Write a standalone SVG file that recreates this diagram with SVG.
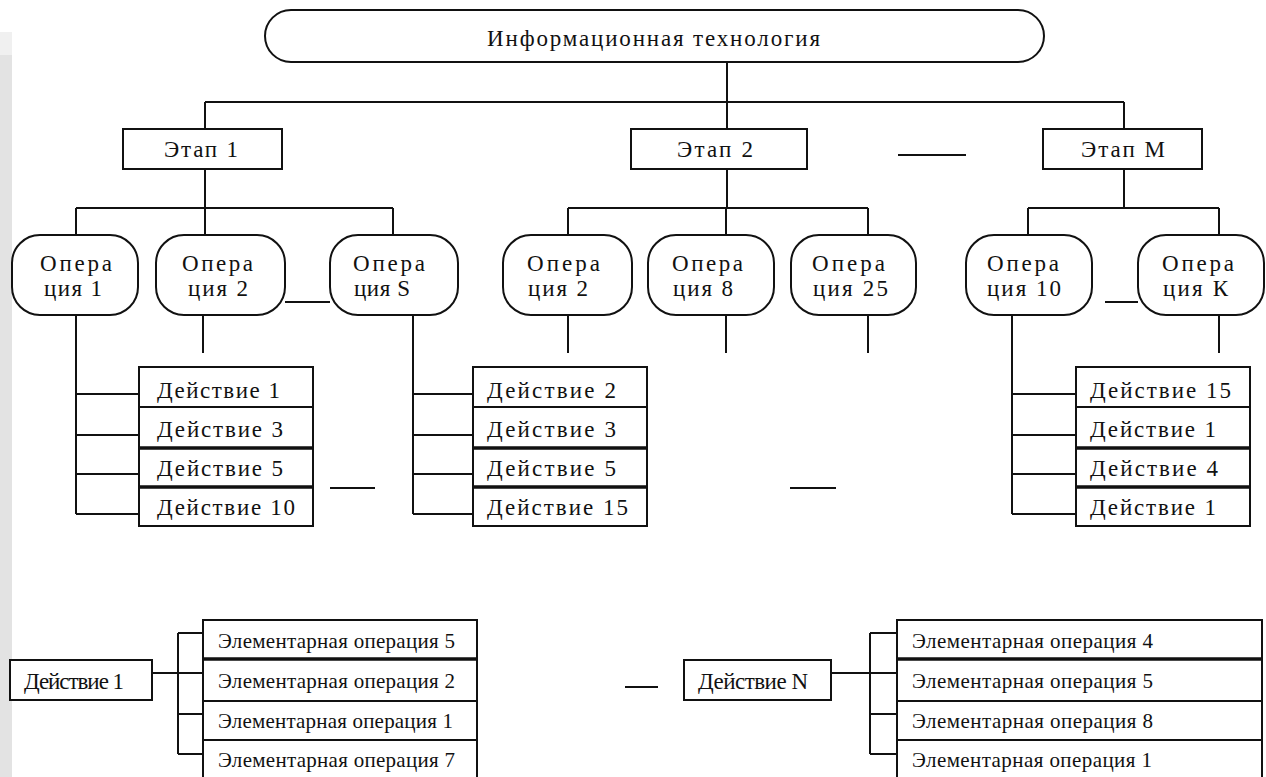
<svg xmlns="http://www.w3.org/2000/svg" width="1266" height="777" viewBox="0 0 1266 777">
<style>
.b{fill:#fff;stroke:#111;stroke-width:2}
.c path{fill:none;stroke:#111;stroke-width:2}
.th{fill:none;stroke:#111;stroke-width:3.5}
.t{font-family:'Liberation Serif',serif;font-size:23px;fill:#111}
.e{font-family:'Liberation Serif',serif;font-size:21px;fill:#111}
</style>
<rect width="1266" height="777" fill="#fff"/>
<rect x="0" y="32" width="12" height="23" fill="#f0f0f0"/>
<rect x="0" y="55" width="12" height="722" fill="#e3e3e3"/>
<g class="c" id="connectors">
<path d="M727 62V102M205 102H1124M205 102V129M727 102V129M1124 102V129"/>
<path d="M205 169V208M76 208H393M76 208V235M205 208V235M393 208V235"/>
<path d="M727 169V208M568 208H868M568 208V235M726 208V235M868 208V235"/>
<path d="M1124 169V208M1028 208H1219M1028 208V235M1219 208V235"/>
<path d="M898 155H966"/>
<path d="M285 302H330M1105 302H1138"/>
<path d="M76 315V514M76 394H139M76 435H139M76 474H139M76 514H139"/>
<path d="M203 315V353M568 315V353M726 315V353M868 315V353M1219 315V353"/>
<path d="M330 488H375M790 488H836"/>
<path d="M413 315V514M413 394H473M413 435H473M413 474H473M413 514H473"/>
<path d="M1012 315V514M1012 394H1076M1012 435H1076M1012 474H1076M1012 514H1076"/>
<path d="M152 673H203M178 633V754M178 633H203M178 714H203M178 754H203"/>
<path d="M625 687H658"/>
<path d="M831 673H897M870 633V754M870 633H897M870 714H897M870 754H897"/>
</g>
<g id="it">
<rect class="b" x="265" y="10" width="779" height="52" rx="26"/>
<text class="t" x="487" y="46" textLength="333" lengthAdjust="spacing">Информационная технология</text>
</g>
<g id="etap1"><rect class="b" x="123" y="129" width="159" height="40"/><text class="t" x="164" y="157" textLength="74" lengthAdjust="spacing">Этап 1</text></g>
<g id="etap2"><rect class="b" x="631" y="129" width="176" height="40"/><text class="t" x="677" y="157" textLength="76" lengthAdjust="spacing">Этап 2</text></g>
<g id="etapM"><rect class="b" x="1043" y="129" width="159" height="40"/><text class="t" x="1081" y="157" textLength="84" lengthAdjust="spacing">Этап М</text></g>
<g id="op1"><rect class="b" x="12" y="235" width="126" height="80" rx="28"/><text class="t" x="40" y="271" textLength="72" lengthAdjust="spacing">Опера</text><text class="t" x="44" y="296" textLength="58" lengthAdjust="spacing">ция 1</text></g>
<g id="op2"><rect class="b" x="156" y="235" width="129" height="80" rx="28"/><text class="t" x="182" y="271" textLength="71" lengthAdjust="spacing">Опера</text><text class="t" x="188" y="296" textLength="60" lengthAdjust="spacing">ция 2</text></g>
<g id="opS"><rect class="b" x="330" y="235" width="128" height="80" rx="28"/><text class="t" x="353" y="271" textLength="72" lengthAdjust="spacing">Опера</text><text class="t" x="354" y="296" textLength="56" lengthAdjust="spacing">ция S</text></g>
<g id="op2b"><rect class="b" x="503" y="235" width="129" height="80" rx="28"/><text class="t" x="527" y="271" textLength="73" lengthAdjust="spacing">Опера</text><text class="t" x="528" y="296" textLength="60" lengthAdjust="spacing">ция 2</text></g>
<g id="op8"><rect class="b" x="648" y="235" width="126" height="80" rx="28"/><text class="t" x="672" y="271" textLength="71" lengthAdjust="spacing">Опера</text><text class="t" x="673" y="296" textLength="60" lengthAdjust="spacing">ция 8</text></g>
<g id="op25"><rect class="b" x="791" y="235" width="125" height="80" rx="28"/><text class="t" x="812" y="271" textLength="73" lengthAdjust="spacing">Опера</text><text class="t" x="813" y="296" textLength="75" lengthAdjust="spacing">ция 25</text></g>
<g id="op10"><rect class="b" x="966" y="235" width="126" height="80" rx="28"/><text class="t" x="987" y="271" textLength="72" lengthAdjust="spacing">Опера</text><text class="t" x="987" y="296" textLength="74" lengthAdjust="spacing">ция 10</text></g>
<g id="opK"><rect class="b" x="1138" y="235" width="126" height="80" rx="28"/><text class="t" x="1162" y="271" textLength="72" lengthAdjust="spacing">Опера</text><text class="t" x="1163" y="296" textLength="65" lengthAdjust="spacing">ция К</text></g>
<g id="actions1">
<rect class="b" x="139" y="367" width="174" height="159"/>
<path d="M139 407H313" class="b"/><path d="M139 448H313M139 487H313" class="th"/>
<text class="t" x="157" y="398" textLength="123" lengthAdjust="spacing">Действие 1</text>
<text class="t" x="157" y="437" textLength="126" lengthAdjust="spacing">Действие 3</text>
<text class="t" x="157" y="476" textLength="126" lengthAdjust="spacing">Действие 5</text>
<text class="t" x="157" y="515" textLength="138" lengthAdjust="spacing">Действие 10</text>
</g>
<g id="actions2">
<rect class="b" x="473" y="367" width="174" height="159"/>
<path d="M473 407H647" class="b"/><path d="M473 448H647M473 487H647" class="th"/>
<text class="t" x="487" y="398" textLength="129" lengthAdjust="spacing">Действие 2</text>
<text class="t" x="487" y="437" textLength="129" lengthAdjust="spacing">Действие 3</text>
<text class="t" x="487" y="476" textLength="129" lengthAdjust="spacing">Действие 5</text>
<text class="t" x="487" y="515" textLength="141" lengthAdjust="spacing">Действие 15</text>
</g>
<g id="actions3">
<rect class="b" x="1076" y="367" width="174" height="159"/>
<path d="M1076 407H1250" class="b"/><path d="M1076 448H1250M1076 487H1250" class="th"/>
<text class="t" x="1090" y="398" textLength="141" lengthAdjust="spacing">Действие 15</text>
<text class="t" x="1090" y="437" textLength="126" lengthAdjust="spacing">Действие 1</text>
<text class="t" x="1090" y="476" textLength="128" lengthAdjust="spacing">Действие 4</text>
<text class="t" x="1090" y="515" textLength="126" lengthAdjust="spacing">Действие 1</text>
</g>
<g id="action1"><rect class="b" x="10" y="660" width="142" height="40"/><text class="t" x="24" y="689" textLength="100" lengthAdjust="spacing">Действие 1</text></g>
<g id="elem1">
<rect class="b" x="203" y="620" width="274" height="162"/>
<path d="M203 659H477" class="th"/><path d="M203 701H477M203 740H477" class="b"/>
<text class="e" x="218" y="648" textLength="237" lengthAdjust="spacing">Элементарная операция 5</text>
<text class="e" x="218" y="688" textLength="237" lengthAdjust="spacing">Элементарная операция 2</text>
<text class="e" x="218" y="728" textLength="235" lengthAdjust="spacing">Элементарная операция 1</text>
<text class="e" x="218" y="767" textLength="237" lengthAdjust="spacing">Элементарная операция 7</text>
</g>
<g id="actionN"><rect class="b" x="684" y="660" width="147" height="40"/><text class="t" x="698" y="689" textLength="110" lengthAdjust="spacing">Действие N</text></g>
<g id="elemN">
<rect class="b" x="897" y="620" width="365" height="162"/>
<path d="M897 659H1262" class="th"/><path d="M897 701H1262M897 740H1262" class="b"/>
<text class="e" x="912" y="648" textLength="241" lengthAdjust="spacing">Элементарная операция 4</text>
<text class="e" x="912" y="688" textLength="241" lengthAdjust="spacing">Элементарная операция 5</text>
<text class="e" x="912" y="728" textLength="241" lengthAdjust="spacing">Элементарная операция 8</text>
<text class="e" x="912" y="767" textLength="240" lengthAdjust="spacing">Элементарная операция 1</text>
</g>
</svg>
